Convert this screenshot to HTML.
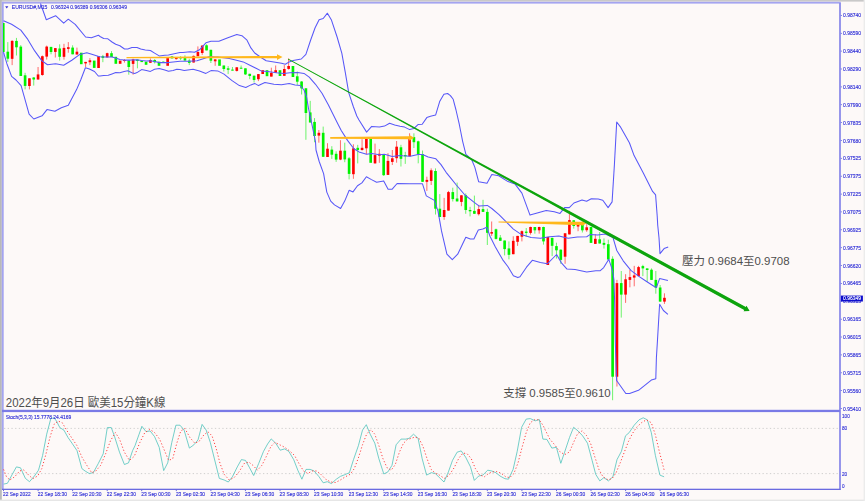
<!DOCTYPE html>
<html lang="zh-Hant"><head><meta charset="utf-8"><title>EURUSD M15</title>
<style>html,body{margin:0;padding:0;background:#fdf9f8;overflow:hidden}svg{display:block}.ax{font-family:"Liberation Sans",sans-serif;font-size:5.7px;fill:#2c2cd6;stroke:#2c2cd6;stroke-width:0.13px}.cj{font-family:"Liberation Sans","Noto Sans CJK TC","Noto Sans CJK SC",sans-serif;fill:#4e4e4e}</style></head><body>
<svg width="865" height="501" viewBox="0 0 865 501">
<defs><filter id="bl" x="-2%" y="-2%" width="104%" height="104%"><feGaussianBlur stdDeviation="0.35"/></filter></defs>
<rect width="865" height="501" fill="#fdf9f8"/>
<g filter="url(#bl)">
<rect x="0" y="0" width="865" height="1.6" fill="#c9c9c9"/>
<rect x="0" y="0" width="1.8" height="501" fill="#b9b9b9"/>
<rect x="0" y="499.6" width="865" height="1.4" fill="#e6e6e6"/>
<rect x="863.6" y="0" width="1.4" height="501" fill="#ececec"/>
<rect x="1.8" y="1.8" width="839" height="1.8" fill="#a4a4f0"/>
<rect x="1.8" y="1.8" width="1.9" height="488" fill="#a4a4f0"/>
<rect x="839.1" y="3" width="1.8" height="487" fill="#8c8cea"/>
<rect x="2" y="409.8" width="838" height="2.3" fill="#7a7ae6"/>
<rect x="2" y="488.7" width="838.5" height="1.3" fill="#6a6ae0"/>
<line x1="4" y1="428.4" x2="839" y2="428.4" stroke="#bdbdbd" stroke-width="0.7" stroke-dasharray="1.3 2.4"/>
<line x1="4" y1="473.6" x2="839" y2="473.6" stroke="#bdbdbd" stroke-width="0.7" stroke-dasharray="1.3 2.4"/>
<rect x="3.00" y="23.0" width="1.6" height="29.0" fill="#00f200"/>
<line x1="7.82" y1="42.1" x2="7.82" y2="61.9" stroke="#3cf03c" stroke-width="0.75"/>
<rect x="6.50" y="51.7" width="2.65" height="7.0" fill="#00f200"/>
<line x1="12.14" y1="40.2" x2="12.14" y2="65.1" stroke="#ff3c3c" stroke-width="0.75"/>
<rect x="10.82" y="40.9" width="2.65" height="17.9" fill="#ff0000"/>
<line x1="16.46" y1="37.9" x2="16.46" y2="55.5" stroke="#3cf03c" stroke-width="0.75"/>
<rect x="15.14" y="40.9" width="2.65" height="6.4" fill="#00f200"/>
<line x1="20.78" y1="45.1" x2="20.78" y2="76.0" stroke="#3cf03c" stroke-width="0.75"/>
<rect x="19.46" y="46.6" width="2.65" height="29.4" fill="#00f200"/>
<line x1="25.10" y1="72.8" x2="25.10" y2="89.4" stroke="#3cf03c" stroke-width="0.75"/>
<rect x="23.78" y="75.3" width="2.65" height="10.6" fill="#00f200"/>
<line x1="29.42" y1="78.3" x2="29.42" y2="89.4" stroke="#ff3c3c" stroke-width="0.75"/>
<rect x="28.10" y="78.3" width="2.65" height="7.7" fill="#ff0000"/>
<line x1="33.74" y1="77.0" x2="33.74" y2="85.6" stroke="#3cf03c" stroke-width="0.75"/>
<rect x="32.41" y="77.5" width="2.65" height="2.0" fill="#00f200"/>
<line x1="38.06" y1="67.0" x2="38.06" y2="79.5" stroke="#ff3c3c" stroke-width="0.75"/>
<rect x="36.73" y="74.4" width="2.65" height="5.1" fill="#ff0000"/>
<line x1="42.38" y1="55.5" x2="42.38" y2="75.7" stroke="#ff3c3c" stroke-width="0.75"/>
<rect x="41.05" y="56.2" width="2.65" height="18.8" fill="#ff0000"/>
<line x1="46.70" y1="45.6" x2="46.70" y2="59.6" stroke="#ff3c3c" stroke-width="0.75"/>
<rect x="45.38" y="46.6" width="2.65" height="10.0" fill="#ff0000"/>
<line x1="51.02" y1="46.9" x2="51.02" y2="54.3" stroke="#3cf03c" stroke-width="0.75"/>
<rect x="49.70" y="46.9" width="2.65" height="5.1" fill="#00f200"/>
<line x1="55.34" y1="48.1" x2="55.34" y2="57.5" stroke="#ff3c3c" stroke-width="0.75"/>
<rect x="54.02" y="48.1" width="2.65" height="3.8" fill="#ff0000"/>
<line x1="59.66" y1="44.3" x2="59.66" y2="60.6" stroke="#3cf03c" stroke-width="0.75"/>
<rect x="58.34" y="48.5" width="2.65" height="8.3" fill="#00f200"/>
<line x1="63.98" y1="43.8" x2="63.98" y2="59.6" stroke="#ff3c3c" stroke-width="0.75"/>
<rect x="62.66" y="47.9" width="2.65" height="8.9" fill="#ff0000"/>
<line x1="68.30" y1="42.1" x2="68.30" y2="52.7" stroke="#ff3c3c" stroke-width="0.75"/>
<rect x="66.98" y="47.2" width="2.65" height="1.7" fill="#ff0000"/>
<line x1="72.62" y1="45.3" x2="72.62" y2="54.3" stroke="#3cf03c" stroke-width="0.75"/>
<rect x="71.30" y="47.6" width="2.65" height="6.7" fill="#00f200"/>
<line x1="76.94" y1="47.6" x2="76.94" y2="54.5" stroke="#ff3c3c" stroke-width="0.75"/>
<rect x="75.61" y="51.7" width="2.65" height="2.8" fill="#ff0000"/>
<rect x="79.94" y="52.7" width="2.65" height="11.5" fill="#00f200"/>
<line x1="85.58" y1="61.9" x2="85.58" y2="67.0" stroke="#ff3c3c" stroke-width="0.75"/>
<rect x="84.26" y="61.9" width="2.65" height="1.5" fill="#ff0000"/>
<line x1="89.90" y1="58.1" x2="89.90" y2="65.1" stroke="#ff3c3c" stroke-width="0.75"/>
<rect x="88.58" y="60.3" width="2.65" height="1.9" fill="#ff0000"/>
<rect x="92.89" y="60.6" width="2.65" height="7.3" fill="#00f200"/>
<rect x="97.22" y="56.2" width="2.65" height="11.8" fill="#ff0000"/>
<line x1="102.86" y1="54.9" x2="102.86" y2="62.2" stroke="#3cf03c" stroke-width="0.75"/>
<rect x="101.54" y="56.2" width="2.65" height="1.7" fill="#00f200"/>
<line x1="107.18" y1="52.7" x2="107.18" y2="57.5" stroke="#ff3c3c" stroke-width="0.75"/>
<rect x="105.86" y="53.2" width="2.65" height="4.2" fill="#ff0000"/>
<line x1="111.50" y1="51.1" x2="111.50" y2="57.1" stroke="#3cf03c" stroke-width="0.75"/>
<rect x="110.17" y="53.2" width="2.65" height="3.8" fill="#00f200"/>
<rect x="114.50" y="56.8" width="2.65" height="7.0" fill="#00f200"/>
<rect x="118.82" y="60.6" width="2.65" height="3.2" fill="#ff0000"/>
<line x1="124.46" y1="59.1" x2="124.46" y2="62.6" stroke="#ff3c3c" stroke-width="0.75"/>
<rect x="123.14" y="60.0" width="2.65" height="1.0" fill="#ff0000"/>
<line x1="128.78" y1="60.4" x2="128.78" y2="74.7" stroke="#3cf03c" stroke-width="0.75"/>
<rect x="127.45" y="60.4" width="2.65" height="6.6" fill="#00f200"/>
<line x1="133.10" y1="58.7" x2="133.10" y2="74.7" stroke="#ff3c3c" stroke-width="0.75"/>
<rect x="131.78" y="59.4" width="2.65" height="4.5" fill="#ff0000"/>
<line x1="137.42" y1="59.6" x2="137.42" y2="68.3" stroke="#3cf03c" stroke-width="0.75"/>
<rect x="136.10" y="59.6" width="2.65" height="1.4" fill="#00f200"/>
<rect x="140.42" y="60.6" width="2.65" height="1.5" fill="#00f200"/>
<rect x="144.74" y="61.7" width="2.65" height="3.1" fill="#00f200"/>
<line x1="150.38" y1="58.4" x2="150.38" y2="62.8" stroke="#ff3c3c" stroke-width="0.75"/>
<rect x="149.06" y="60.0" width="2.65" height="2.8" fill="#ff0000"/>
<line x1="154.70" y1="59.1" x2="154.70" y2="63.5" stroke="#3cf03c" stroke-width="0.75"/>
<rect x="153.38" y="60.0" width="2.65" height="2.2" fill="#00f200"/>
<rect x="157.70" y="61.7" width="2.65" height="4.1" fill="#00f200"/>
<line x1="163.34" y1="61.4" x2="163.34" y2="62.6" stroke="#3cf03c" stroke-width="0.75"/>
<rect x="162.02" y="61.7" width="2.65" height="0.9" fill="#00f200"/>
<rect x="166.34" y="58.1" width="2.65" height="7.7" fill="#ff0000"/>
<line x1="171.98" y1="56.2" x2="171.98" y2="58.7" stroke="#3cf03c" stroke-width="0.75"/>
<rect x="170.66" y="56.4" width="2.65" height="1.9" fill="#00f200"/>
<line x1="176.30" y1="57.5" x2="176.30" y2="59.6" stroke="#ff3c3c" stroke-width="0.75"/>
<rect x="174.98" y="57.8" width="2.65" height="1.3" fill="#ff0000"/>
<line x1="180.62" y1="56.2" x2="180.62" y2="60.0" stroke="#3cf03c" stroke-width="0.75"/>
<rect x="179.30" y="57.5" width="2.65" height="0.9" fill="#00f200"/>
<line x1="184.94" y1="55.3" x2="184.94" y2="60.6" stroke="#3cf03c" stroke-width="0.75"/>
<rect x="183.62" y="58.1" width="2.65" height="2.5" fill="#00f200"/>
<line x1="189.26" y1="58.7" x2="189.26" y2="65.1" stroke="#3cf03c" stroke-width="0.75"/>
<rect x="187.94" y="60.6" width="2.65" height="2.3" fill="#00f200"/>
<line x1="193.58" y1="55.5" x2="193.58" y2="62.6" stroke="#ff3c3c" stroke-width="0.75"/>
<rect x="192.26" y="55.9" width="2.65" height="6.6" fill="#ff0000"/>
<line x1="197.90" y1="46.4" x2="197.90" y2="56.2" stroke="#ff3c3c" stroke-width="0.75"/>
<rect x="196.58" y="52.0" width="2.65" height="4.2" fill="#ff0000"/>
<line x1="202.22" y1="45.3" x2="202.22" y2="54.9" stroke="#ff3c3c" stroke-width="0.75"/>
<rect x="200.90" y="45.6" width="2.65" height="7.4" fill="#ff0000"/>
<line x1="206.54" y1="44.3" x2="206.54" y2="50.4" stroke="#3cf03c" stroke-width="0.75"/>
<rect x="205.22" y="45.3" width="2.65" height="5.1" fill="#00f200"/>
<line x1="210.86" y1="49.8" x2="210.86" y2="63.0" stroke="#3cf03c" stroke-width="0.75"/>
<rect x="209.54" y="49.8" width="2.65" height="10.9" fill="#00f200"/>
<line x1="215.18" y1="59.1" x2="215.18" y2="65.8" stroke="#ff3c3c" stroke-width="0.75"/>
<rect x="213.86" y="59.4" width="2.65" height="1.9" fill="#ff0000"/>
<rect x="218.18" y="59.4" width="2.65" height="6.4" fill="#00f200"/>
<line x1="223.82" y1="65.5" x2="223.82" y2="71.5" stroke="#3cf03c" stroke-width="0.75"/>
<rect x="222.50" y="65.5" width="2.65" height="3.5" fill="#00f200"/>
<line x1="228.14" y1="66.0" x2="228.14" y2="74.1" stroke="#3cf03c" stroke-width="0.75"/>
<rect x="226.82" y="68.3" width="2.65" height="1.5" fill="#00f200"/>
<line x1="232.46" y1="67.0" x2="232.46" y2="70.6" stroke="#3cf03c" stroke-width="0.75"/>
<rect x="231.14" y="69.6" width="2.65" height="1.0" fill="#00f200"/>
<line x1="236.78" y1="67.0" x2="236.78" y2="71.5" stroke="#ff3c3c" stroke-width="0.75"/>
<rect x="235.46" y="67.3" width="2.65" height="3.6" fill="#ff0000"/>
<line x1="241.10" y1="65.5" x2="241.10" y2="68.7" stroke="#3cf03c" stroke-width="0.75"/>
<rect x="239.78" y="67.7" width="2.65" height="1.0" fill="#00f200"/>
<line x1="245.42" y1="68.3" x2="245.42" y2="75.0" stroke="#3cf03c" stroke-width="0.75"/>
<rect x="244.10" y="68.3" width="2.65" height="6.1" fill="#00f200"/>
<line x1="249.74" y1="73.8" x2="249.74" y2="79.2" stroke="#3cf03c" stroke-width="0.75"/>
<rect x="248.42" y="73.8" width="2.65" height="2.2" fill="#00f200"/>
<line x1="254.06" y1="75.7" x2="254.06" y2="82.4" stroke="#3cf03c" stroke-width="0.75"/>
<rect x="252.74" y="75.7" width="2.65" height="4.3" fill="#00f200"/>
<line x1="258.38" y1="74.1" x2="258.38" y2="81.1" stroke="#ff3c3c" stroke-width="0.75"/>
<rect x="257.06" y="74.1" width="2.65" height="5.1" fill="#ff0000"/>
<rect x="261.38" y="70.2" width="2.65" height="3.8" fill="#ff0000"/>
<rect x="265.70" y="70.2" width="2.65" height="6.0" fill="#00f200"/>
<line x1="271.34" y1="67.7" x2="271.34" y2="76.6" stroke="#ff3c3c" stroke-width="0.75"/>
<rect x="270.02" y="72.8" width="2.65" height="3.8" fill="#ff0000"/>
<line x1="275.66" y1="65.5" x2="275.66" y2="72.8" stroke="#ff3c3c" stroke-width="0.75"/>
<rect x="274.34" y="70.2" width="2.65" height="2.5" fill="#ff0000"/>
<rect x="278.66" y="70.2" width="2.65" height="5.8" fill="#00f200"/>
<line x1="284.30" y1="65.1" x2="284.30" y2="75.7" stroke="#ff3c3c" stroke-width="0.75"/>
<rect x="282.98" y="69.0" width="2.65" height="6.8" fill="#ff0000"/>
<line x1="288.62" y1="58.4" x2="288.62" y2="69.6" stroke="#ff3c3c" stroke-width="0.75"/>
<rect x="287.30" y="66.0" width="2.65" height="2.9" fill="#ff0000"/>
<rect x="291.62" y="66.0" width="2.65" height="11.0" fill="#00f200"/>
<line x1="297.26" y1="71.5" x2="297.26" y2="84.9" stroke="#3cf03c" stroke-width="0.75"/>
<rect x="295.94" y="76.3" width="2.65" height="5.4" fill="#00f200"/>
<line x1="301.58" y1="81.1" x2="301.58" y2="94.5" stroke="#3cf03c" stroke-width="0.75"/>
<rect x="300.26" y="81.5" width="2.65" height="6.9" fill="#00f200"/>
<line x1="305.90" y1="88.3" x2="305.90" y2="139.8" stroke="#3cf03c" stroke-width="0.75"/>
<rect x="304.58" y="88.3" width="2.65" height="24.7" fill="#00f200"/>
<line x1="310.22" y1="100.9" x2="310.22" y2="122.5" stroke="#3cf03c" stroke-width="0.75"/>
<rect x="308.90" y="112.4" width="2.65" height="10.1" fill="#00f200"/>
<line x1="314.54" y1="118.1" x2="314.54" y2="142.3" stroke="#3cf03c" stroke-width="0.75"/>
<rect x="313.22" y="121.9" width="2.65" height="14.1" fill="#00f200"/>
<line x1="318.86" y1="130.0" x2="318.86" y2="142.7" stroke="#ff3c3c" stroke-width="0.75"/>
<rect x="317.54" y="132.8" width="2.65" height="2.8" fill="#ff0000"/>
<line x1="323.18" y1="126.6" x2="323.18" y2="156.8" stroke="#3cf03c" stroke-width="0.75"/>
<rect x="321.86" y="132.8" width="2.65" height="24.0" fill="#00f200"/>
<line x1="327.50" y1="143.2" x2="327.50" y2="157.0" stroke="#ff3c3c" stroke-width="0.75"/>
<rect x="326.18" y="148.7" width="2.65" height="8.3" fill="#ff0000"/>
<line x1="331.82" y1="146.2" x2="331.82" y2="158.9" stroke="#3cf03c" stroke-width="0.75"/>
<rect x="330.50" y="149.6" width="2.65" height="5.1" fill="#00f200"/>
<line x1="336.14" y1="151.3" x2="336.14" y2="161.9" stroke="#3cf03c" stroke-width="0.75"/>
<rect x="334.82" y="153.8" width="2.65" height="5.8" fill="#00f200"/>
<line x1="340.46" y1="140.2" x2="340.46" y2="160.2" stroke="#ff3c3c" stroke-width="0.75"/>
<rect x="339.14" y="150.7" width="2.65" height="8.9" fill="#ff0000"/>
<line x1="344.78" y1="142.7" x2="344.78" y2="162.2" stroke="#3cf03c" stroke-width="0.75"/>
<rect x="343.46" y="150.7" width="2.65" height="8.7" fill="#00f200"/>
<line x1="349.10" y1="157.0" x2="349.10" y2="179.4" stroke="#3cf03c" stroke-width="0.75"/>
<rect x="347.78" y="158.3" width="2.65" height="15.6" fill="#00f200"/>
<line x1="353.42" y1="144.3" x2="353.42" y2="178.8" stroke="#ff3c3c" stroke-width="0.75"/>
<rect x="352.10" y="148.3" width="2.65" height="25.9" fill="#ff0000"/>
<line x1="357.74" y1="144.9" x2="357.74" y2="163.4" stroke="#3cf03c" stroke-width="0.75"/>
<rect x="356.42" y="147.8" width="2.65" height="2.2" fill="#00f200"/>
<line x1="362.06" y1="139.2" x2="362.06" y2="150.7" stroke="#ff3c3c" stroke-width="0.75"/>
<rect x="360.74" y="147.8" width="2.65" height="2.2" fill="#ff0000"/>
<line x1="366.38" y1="138.9" x2="366.38" y2="154.2" stroke="#ff3c3c" stroke-width="0.75"/>
<rect x="365.06" y="138.9" width="2.65" height="9.4" fill="#ff0000"/>
<rect x="369.38" y="138.9" width="2.65" height="23.9" fill="#00f200"/>
<line x1="375.02" y1="143.6" x2="375.02" y2="163.4" stroke="#ff3c3c" stroke-width="0.75"/>
<rect x="373.70" y="155.1" width="2.65" height="8.3" fill="#ff0000"/>
<line x1="379.34" y1="149.1" x2="379.34" y2="162.8" stroke="#ff3c3c" stroke-width="0.75"/>
<rect x="378.02" y="153.8" width="2.65" height="1.9" fill="#ff0000"/>
<line x1="383.66" y1="154.5" x2="383.66" y2="175.9" stroke="#3cf03c" stroke-width="0.75"/>
<rect x="382.34" y="154.5" width="2.65" height="20.7" fill="#00f200"/>
<line x1="387.98" y1="153.2" x2="387.98" y2="174.9" stroke="#ff3c3c" stroke-width="0.75"/>
<rect x="386.66" y="160.9" width="2.65" height="14.0" fill="#ff0000"/>
<line x1="392.30" y1="150.0" x2="392.30" y2="165.0" stroke="#ff3c3c" stroke-width="0.75"/>
<rect x="390.98" y="158.3" width="2.65" height="3.6" fill="#ff0000"/>
<line x1="396.62" y1="141.0" x2="396.62" y2="162.7" stroke="#ff3c3c" stroke-width="0.75"/>
<rect x="395.30" y="146.7" width="2.65" height="11.5" fill="#ff0000"/>
<line x1="400.94" y1="144.8" x2="400.94" y2="166.5" stroke="#3cf03c" stroke-width="0.75"/>
<rect x="399.62" y="147.3" width="2.65" height="11.5" fill="#00f200"/>
<line x1="405.26" y1="151.8" x2="405.26" y2="163.9" stroke="#3cf03c" stroke-width="0.75"/>
<rect x="403.94" y="155.0" width="2.65" height="1.3" fill="#00f200"/>
<line x1="409.58" y1="133.3" x2="409.58" y2="156.3" stroke="#ff3c3c" stroke-width="0.75"/>
<rect x="408.26" y="137.1" width="2.65" height="19.2" fill="#ff0000"/>
<line x1="413.90" y1="133.3" x2="413.90" y2="148.0" stroke="#3cf03c" stroke-width="0.75"/>
<rect x="412.58" y="137.1" width="2.65" height="5.1" fill="#00f200"/>
<line x1="418.22" y1="140.6" x2="418.22" y2="163.3" stroke="#3cf03c" stroke-width="0.75"/>
<rect x="416.90" y="141.3" width="2.65" height="13.0" fill="#00f200"/>
<line x1="422.54" y1="150.5" x2="422.54" y2="181.8" stroke="#3cf03c" stroke-width="0.75"/>
<rect x="421.22" y="154.1" width="2.65" height="27.7" fill="#00f200"/>
<line x1="426.86" y1="176.7" x2="426.86" y2="190.9" stroke="#ff3c3c" stroke-width="0.75"/>
<rect x="425.54" y="179.9" width="2.65" height="1.9" fill="#ff0000"/>
<line x1="431.18" y1="168.4" x2="431.18" y2="185.0" stroke="#ff3c3c" stroke-width="0.75"/>
<rect x="429.86" y="170.3" width="2.65" height="10.6" fill="#ff0000"/>
<line x1="435.50" y1="168.4" x2="435.50" y2="214.5" stroke="#3cf03c" stroke-width="0.75"/>
<rect x="434.18" y="171.0" width="2.65" height="37.7" fill="#00f200"/>
<line x1="439.82" y1="194.1" x2="439.82" y2="217.0" stroke="#3cf03c" stroke-width="0.75"/>
<rect x="438.50" y="208.7" width="2.65" height="8.3" fill="#00f200"/>
<line x1="444.14" y1="197.9" x2="444.14" y2="219.8" stroke="#ff3c3c" stroke-width="0.75"/>
<rect x="442.82" y="210.0" width="2.65" height="7.0" fill="#ff0000"/>
<line x1="448.46" y1="190.9" x2="448.46" y2="210.7" stroke="#ff3c3c" stroke-width="0.75"/>
<rect x="447.14" y="192.1" width="2.65" height="18.5" fill="#ff0000"/>
<line x1="452.78" y1="187.7" x2="452.78" y2="201.5" stroke="#3cf03c" stroke-width="0.75"/>
<rect x="451.46" y="192.1" width="2.65" height="7.0" fill="#00f200"/>
<line x1="457.10" y1="182.6" x2="457.10" y2="201.5" stroke="#3cf03c" stroke-width="0.75"/>
<rect x="455.78" y="198.5" width="2.65" height="2.9" fill="#00f200"/>
<line x1="461.42" y1="195.1" x2="461.42" y2="206.2" stroke="#ff3c3c" stroke-width="0.75"/>
<rect x="460.10" y="195.3" width="2.65" height="6.6" fill="#ff0000"/>
<line x1="465.74" y1="193.4" x2="465.74" y2="213.8" stroke="#3cf03c" stroke-width="0.75"/>
<rect x="464.42" y="195.3" width="2.65" height="14.7" fill="#00f200"/>
<line x1="470.06" y1="206.8" x2="470.06" y2="216.4" stroke="#3cf03c" stroke-width="0.75"/>
<rect x="468.74" y="210.0" width="2.65" height="1.3" fill="#00f200"/>
<line x1="474.38" y1="195.6" x2="474.38" y2="213.8" stroke="#3cf03c" stroke-width="0.75"/>
<rect x="473.06" y="210.9" width="2.65" height="2.9" fill="#00f200"/>
<line x1="478.70" y1="204.9" x2="478.70" y2="215.5" stroke="#ff3c3c" stroke-width="0.75"/>
<rect x="477.38" y="209.1" width="2.65" height="5.1" fill="#ff0000"/>
<line x1="483.02" y1="199.8" x2="483.02" y2="211.9" stroke="#3cf03c" stroke-width="0.75"/>
<rect x="481.70" y="209.1" width="2.65" height="2.8" fill="#00f200"/>
<line x1="487.34" y1="208.7" x2="487.34" y2="245.0" stroke="#3cf03c" stroke-width="0.75"/>
<rect x="486.02" y="211.9" width="2.65" height="20.9" fill="#00f200"/>
<line x1="491.66" y1="221.5" x2="491.66" y2="235.9" stroke="#ff3c3c" stroke-width="0.75"/>
<rect x="490.34" y="232.1" width="2.65" height="1.5" fill="#ff0000"/>
<line x1="495.98" y1="228.6" x2="495.98" y2="239.5" stroke="#3cf03c" stroke-width="0.75"/>
<rect x="494.66" y="229.3" width="2.65" height="9.6" fill="#00f200"/>
<line x1="500.30" y1="235.0" x2="500.30" y2="240.8" stroke="#3cf03c" stroke-width="0.75"/>
<rect x="498.98" y="237.6" width="2.65" height="3.2" fill="#00f200"/>
<line x1="504.62" y1="240.5" x2="504.62" y2="255.4" stroke="#3cf03c" stroke-width="0.75"/>
<rect x="503.30" y="240.5" width="2.65" height="8.6" fill="#00f200"/>
<line x1="508.94" y1="241.4" x2="508.94" y2="259.3" stroke="#3cf03c" stroke-width="0.75"/>
<rect x="507.62" y="248.4" width="2.65" height="6.4" fill="#00f200"/>
<line x1="513.26" y1="236.3" x2="513.26" y2="254.2" stroke="#ff3c3c" stroke-width="0.75"/>
<rect x="511.94" y="240.8" width="2.65" height="13.4" fill="#ff0000"/>
<line x1="517.58" y1="235.9" x2="517.58" y2="245.9" stroke="#ff3c3c" stroke-width="0.75"/>
<rect x="516.25" y="235.9" width="2.65" height="5.9" fill="#ff0000"/>
<line x1="521.90" y1="230.5" x2="521.90" y2="241.4" stroke="#ff3c3c" stroke-width="0.75"/>
<rect x="520.58" y="231.2" width="2.65" height="5.5" fill="#ff0000"/>
<line x1="526.22" y1="228.0" x2="526.22" y2="236.9" stroke="#3cf03c" stroke-width="0.75"/>
<rect x="524.89" y="231.6" width="2.65" height="1.3" fill="#00f200"/>
<line x1="530.54" y1="226.7" x2="530.54" y2="234.6" stroke="#ff3c3c" stroke-width="0.75"/>
<rect x="529.22" y="227.0" width="2.65" height="5.9" fill="#ff0000"/>
<line x1="534.86" y1="227.0" x2="534.86" y2="233.7" stroke="#3cf03c" stroke-width="0.75"/>
<rect x="533.53" y="227.0" width="2.65" height="3.3" fill="#00f200"/>
<line x1="539.18" y1="226.7" x2="539.18" y2="233.7" stroke="#ff3c3c" stroke-width="0.75"/>
<rect x="537.86" y="227.0" width="2.65" height="3.3" fill="#ff0000"/>
<line x1="543.50" y1="226.7" x2="543.50" y2="244.6" stroke="#3cf03c" stroke-width="0.75"/>
<rect x="542.17" y="227.0" width="2.65" height="14.4" fill="#00f200"/>
<rect x="546.50" y="236.9" width="2.65" height="28.1" fill="#ff0000"/>
<line x1="552.14" y1="237.6" x2="552.14" y2="256.1" stroke="#3cf03c" stroke-width="0.75"/>
<rect x="550.81" y="237.9" width="2.65" height="7.9" fill="#00f200"/>
<line x1="556.46" y1="242.7" x2="556.46" y2="258.6" stroke="#3cf03c" stroke-width="0.75"/>
<rect x="555.13" y="246.1" width="2.65" height="4.2" fill="#00f200"/>
<line x1="560.78" y1="249.4" x2="560.78" y2="263.8" stroke="#3cf03c" stroke-width="0.75"/>
<rect x="559.46" y="249.7" width="2.65" height="10.2" fill="#00f200"/>
<line x1="565.10" y1="233.1" x2="565.10" y2="263.8" stroke="#ff3c3c" stroke-width="0.75"/>
<rect x="563.77" y="233.3" width="2.65" height="23.4" fill="#ff0000"/>
<line x1="569.42" y1="210.8" x2="569.42" y2="234.4" stroke="#ff3c3c" stroke-width="0.75"/>
<rect x="568.10" y="220.1" width="2.65" height="14.3" fill="#ff0000"/>
<line x1="573.74" y1="220.1" x2="573.74" y2="228.6" stroke="#3cf03c" stroke-width="0.75"/>
<rect x="572.41" y="220.3" width="2.65" height="5.7" fill="#00f200"/>
<line x1="578.06" y1="223.9" x2="578.06" y2="231.2" stroke="#ff3c3c" stroke-width="0.75"/>
<rect x="576.74" y="224.2" width="2.65" height="2.3" fill="#ff0000"/>
<line x1="582.38" y1="224.2" x2="582.38" y2="232.5" stroke="#3cf03c" stroke-width="0.75"/>
<rect x="581.05" y="224.8" width="2.65" height="5.5" fill="#00f200"/>
<line x1="586.70" y1="224.2" x2="586.70" y2="231.8" stroke="#ff3c3c" stroke-width="0.75"/>
<rect x="585.38" y="227.3" width="2.65" height="2.9" fill="#ff0000"/>
<rect x="589.69" y="226.9" width="2.65" height="16.0" fill="#00f200"/>
<line x1="595.34" y1="234.2" x2="595.34" y2="243.9" stroke="#ff3c3c" stroke-width="0.75"/>
<rect x="594.01" y="238.8" width="2.65" height="5.1" fill="#ff0000"/>
<line x1="599.66" y1="232.0" x2="599.66" y2="243.5" stroke="#3cf03c" stroke-width="0.75"/>
<rect x="598.34" y="239.3" width="2.65" height="4.2" fill="#00f200"/>
<line x1="603.98" y1="238.4" x2="603.98" y2="248.6" stroke="#3cf03c" stroke-width="0.75"/>
<rect x="602.65" y="242.9" width="2.65" height="1.9" fill="#00f200"/>
<line x1="608.30" y1="239.7" x2="608.30" y2="259.5" stroke="#3cf03c" stroke-width="0.75"/>
<rect x="606.98" y="244.2" width="2.65" height="15.3" fill="#00f200"/>
<line x1="612.62" y1="256.3" x2="612.62" y2="400.2" stroke="#3cf03c" stroke-width="0.75"/>
<rect x="611.29" y="258.8" width="2.65" height="117.9" fill="#00f200"/>
<line x1="616.94" y1="279.9" x2="616.94" y2="386.5" stroke="#ff3c3c" stroke-width="0.75"/>
<rect x="615.62" y="283.1" width="2.65" height="93.6" fill="#ff0000"/>
<line x1="621.26" y1="271.0" x2="621.26" y2="317.6" stroke="#3cf03c" stroke-width="0.75"/>
<rect x="619.93" y="283.1" width="2.65" height="11.5" fill="#00f200"/>
<line x1="625.58" y1="274.2" x2="625.58" y2="302.9" stroke="#ff3c3c" stroke-width="0.75"/>
<rect x="624.25" y="279.3" width="2.65" height="15.3" fill="#ff0000"/>
<line x1="629.90" y1="269.7" x2="629.90" y2="287.3" stroke="#ff3c3c" stroke-width="0.75"/>
<rect x="628.58" y="277.1" width="2.65" height="2.8" fill="#ff0000"/>
<line x1="634.22" y1="265.9" x2="634.22" y2="286.3" stroke="#ff3c3c" stroke-width="0.75"/>
<rect x="632.89" y="275.4" width="2.65" height="2.2" fill="#ff0000"/>
<line x1="638.54" y1="265.9" x2="638.54" y2="276.1" stroke="#ff3c3c" stroke-width="0.75"/>
<rect x="637.22" y="267.1" width="2.65" height="9.0" fill="#ff0000"/>
<line x1="642.86" y1="264.8" x2="642.86" y2="276.1" stroke="#3cf03c" stroke-width="0.75"/>
<rect x="641.53" y="266.1" width="2.65" height="2.3" fill="#00f200"/>
<line x1="647.18" y1="268.4" x2="647.18" y2="281.8" stroke="#3cf03c" stroke-width="0.75"/>
<rect x="645.86" y="268.4" width="2.65" height="1.6" fill="#00f200"/>
<line x1="651.50" y1="268.4" x2="651.50" y2="279.9" stroke="#3cf03c" stroke-width="0.75"/>
<rect x="650.17" y="269.7" width="2.65" height="10.2" fill="#00f200"/>
<line x1="655.82" y1="271.0" x2="655.82" y2="293.7" stroke="#3cf03c" stroke-width="0.75"/>
<rect x="654.50" y="279.9" width="2.65" height="7.7" fill="#00f200"/>
<line x1="660.14" y1="285.0" x2="660.14" y2="301.6" stroke="#3cf03c" stroke-width="0.75"/>
<rect x="658.82" y="287.5" width="2.65" height="14.1" fill="#00f200"/>
<line x1="664.46" y1="293.3" x2="664.46" y2="303.9" stroke="#ff3c3c" stroke-width="0.75"/>
<rect x="663.13" y="297.8" width="2.65" height="3.8" fill="#ff0000"/>
<polyline points="40.5,3.5 46.3,19.7 55.6,15.7 63.7,23.1 68.3,19.2 75.2,24.3 85.6,37.0 91.4,37.7 98.4,35.2 100.0,36.5 103.7,38.5 107.9,38.8 112.0,42.0 115.7,44.3 119.9,45.7 124.5,49.0 127.8,49.0 131.9,47.4 137.0,47.4 140.7,49.0 145.3,49.9 150.4,50.5 154.6,53.1 159.2,55.9 164.8,55.2 168.5,55.0 173.1,53.9 180.0,52.6 182.9,52.4 190.0,51.7 194.5,52.3 199.5,49.8 205.9,42.8 211.0,41.2 218.9,41.2 227.9,37.7 236.8,34.5 241.9,35.7 247.0,40.2 250.9,47.9 254.7,53.0 261.1,57.5 266.2,60.7 273.9,61.9 281.5,63.2 285.4,64.2 289.2,61.9 293.1,60.6 301.3,59.0 305.9,54.4 310.5,40.5 315.1,27.8 319.1,19.7 323.2,18.5 327.4,13.2 331.3,19.7 337.1,37.0 341.8,53.2 345.2,71.8 348.7,92.6 353.3,106.5 356.8,116.0 359.0,120.0 366.6,132.1 371.7,126.4 379.4,127.0 384.5,126.1 389.6,123.2 394.7,124.9 400.0,126.2 404.6,127.1 409.7,129.6 413.9,128.5 418.0,124.6 422.2,124.3 426.8,117.6 430.5,116.3 435.6,115.1 439.8,101.2 443.9,94.3 447.6,93.5 450.4,95.6 453.2,99.3 456.0,110.0 459.2,123.9 460.6,131.0 462.7,141.6 465.9,154.4 471.6,159.5 474.8,167.1 478.7,181.8 487.0,183.2 491.8,174.6 498.7,175.8 508.0,181.6 514.9,183.9 521.9,193.1 530.0,215.1 538.1,212.8 546.2,210.5 554.3,211.7 560.0,213.4 564.6,207.6 569.3,207.6 573.9,203.0 582.0,200.0 586.6,201.2 591.3,198.8 598.2,199.1 602.8,200.2 608.1,207.6 612.1,201.9 614.4,164.8 616.7,122.0 620.2,126.6 629.4,142.8 634.1,155.6 643.3,172.9 652.6,191.4 655.6,194.9 657.2,216.0 657.7,225.0 659.0,237.8 660.0,253.7 664.1,248.6 668.2,247.0" fill="none" stroke="#5858f8" stroke-width="1.05" stroke-linejoin="round"/>
<polyline points="3.5,20.8 11.6,24.3 20.8,30.1 27.8,39.4 34.7,50.9 41.7,60.6 47.5,64.8 55.6,63.7 63.7,65.3 71.8,60.2 79.9,54.4 86.8,52.8 92.6,54.4 99.5,56.7 100.0,56.8 105.5,57.0 112.0,57.0 114.8,57.8 119.9,59.4 124.1,60.1 130.5,60.1 137.0,59.8 141.6,60.5 146.3,61.0 150.4,60.7 154.6,61.5 159.2,62.6 164.8,62.6 168.5,62.6 173.1,61.9 180.0,61.3 181.6,61.3 189.3,61.3 197.0,60.7 203.3,58.7 209.7,56.6 215.0,57.1 217.7,57.1 229.2,58.4 235.5,60.0 243.2,61.9 250.9,65.8 256.0,68.3 261.1,70.9 267.5,71.5 276.4,72.8 283.8,73.4 290.0,72.8 297.7,72.5 304.0,73.4 309.2,77.2 315.5,84.3 322.0,93.2 328.3,104.7 333.4,115.0 337.9,124.0 341.1,130.2 347.5,140.4 353.9,148.7 359.0,151.9 366.6,154.2 371.7,153.5 379.4,154.7 384.5,154.2 392.2,156.4 400.0,155.4 402.7,155.7 410.3,156.3 418.0,154.4 422.5,154.4 428.2,156.9 435.9,158.8 441.0,164.6 446.1,172.3 451.2,178.6 456.3,185.0 458.9,188.0 464.9,195.0 473.9,202.2 479.2,206.1 487.3,205.4 491.8,208.5 499.0,214.7 506.2,221.9 513.4,229.1 520.0,233.6 521.9,234.8 531.1,237.6 540.4,238.3 549.6,236.7 558.9,236.0 568.1,238.3 577.4,237.1 586.7,236.7 590.0,234.6 597.7,235.0 605.3,233.9 613.0,237.5 614.9,244.2 616.8,250.5 623.2,260.8 630.9,270.3 638.5,276.1 646.2,281.2 653.9,286.3 656.4,287.6 659.6,278.6 662.8,279.3 667.9,280.6" fill="none" stroke="#5858f8" stroke-width="1.05" stroke-linejoin="round"/>
<polyline points="3.5,52.1 6.9,63.7 11.6,76.4 16.0,80.0 21.1,85.7 24.9,99.2 29.1,114.2 33.8,119.0 42.1,115.8 47.0,109.6 54.9,111.3 61.3,107.8 68.3,105.3 76.6,89.6 80.7,80.0 85.4,67.7 89.4,69.0 94.5,71.5 98.3,76.0 100.0,76.0 103.7,75.5 108.3,75.3 112.0,73.9 115.7,72.6 119.9,72.7 124.1,71.6 127.8,70.7 131.9,72.7 134.7,73.5 137.0,72.6 141.6,69.6 146.3,70.4 150.4,71.4 154.6,69.3 159.2,68.4 164.8,70.0 168.5,71.2 173.1,70.4 176.8,69.3 180.0,69.6 184.2,70.6 193.1,69.3 199.5,70.9 205.9,73.4 211.0,70.6 217.7,70.9 224.0,74.1 231.7,80.4 239.4,85.6 245.8,87.5 250.9,84.9 254.7,83.4 258.5,85.6 264.9,82.6 273.9,84.3 281.5,84.7 289.2,83.6 295.1,84.9 300.2,85.5 304.0,90.0 306.6,97.0 308.5,108.5 311.0,120.0 315.5,141.7 316.0,150.0 319.2,161.5 323.6,173.6 326.8,192.1 330.7,201.1 334.5,204.9 340.6,208.5 344.7,201.1 349.2,190.2 353.0,191.9 357.5,185.8 361.9,182.9 366.4,176.8 371.5,179.6 376.6,182.2 383.7,180.9 388.1,189.3 392.0,189.3 397.1,183.5 410.0,183.8 422.5,183.8 426.3,195.9 434.4,200.4 438.0,211.2 441.5,230.9 446.9,254.2 452.3,259.6 457.7,254.2 465.8,237.2 470.3,239.0 473.9,239.0 478.3,230.0 482.8,229.1 486.8,227.3 490.0,236.3 495.4,247.1 502.6,259.6 508.0,266.8 513.4,275.8 517.8,277.6 520.0,276.7 526.5,267.2 532.3,260.3 540.4,262.6 547.3,263.8 553.1,258.0 556.6,254.5 561.2,262.6 567.0,269.1 575.1,269.5 586.7,271.9 595.9,270.7 600.0,270.8 603.7,267.6 606.5,263.0 608.8,259.3 611.6,267.6 613.0,273.1 613.9,279.6 614.6,300.0 615.4,345.0 616.6,380.8 616.8,380.8 625.8,393.5 629.6,393.5 638.5,390.3 651.3,380.1 655.8,378.8 656.4,357.8 657.5,340.0 659.6,304.2 663.4,310.5 667.9,314.4" fill="none" stroke="#5858f8" stroke-width="1.05" stroke-linejoin="round"/>
<polygon points="126.5,58.2 277.0,58.3 277.0,60.0 282.5,57.1 277.0,54.2 277.0,55.9 126.5,57.0" fill="#ffb81c"/>
<polygon points="330.2,138.7 409.2,139.3 409.2,140.7 414.4,137.8 409.2,134.9 409.2,136.3 330.2,137.1" fill="#ffb81c"/>
<polygon points="498.5,222.5 581.8,225.2 581.8,225.9 586.3,223.6 581.8,221.1 581.8,221.8 498.5,221.5" fill="#ffb81c"/>
<polygon points="288.0,59.5 364.7,101.6 474.6,161.9 539.4,197.6 589.3,225.2 744.2,310.0 743.6,311.2 749.6,311.0 746.5,305.8 745.8,307.1 590.7,222.5 540.6,195.5 475.4,160.3 365.3,100.5 288.4,58.7" fill="#08a408"/>
<polyline points="3.6,484.1 7.4,483.3 12.3,474.3 16.4,466.9 20.5,467.8 25.4,478.4 29.5,481.7 34.4,476.0 38.5,470.2 42.6,455.5 46.7,434.2 50.8,418.6 54.0,417.8 56.5,421.1 59.8,427.6 63.9,430.1 68.0,437.5 72.0,443.2 77.0,450.6 81.9,468.6 85.1,471.0 89.2,473.5 93.3,472.7 98.2,463.7 103.2,453.8 107.3,427.6 111.3,427.6 114.6,436.7 119.5,452.2 124.4,464.5 128.5,462.9 132.6,450.6 135.0,445.7 139.1,434.2 141.9,426.3 146.1,431.7 150.1,430.9 154.6,436.7 159.2,447.3 163.7,470.6 167.7,462.9 171.8,442.4 175.9,425.2 180.0,425.2 184.1,430.1 189.4,448.1 193.9,444.8 198.0,439.9 202.1,424.4 206.2,430.1 210.3,442.4 215.2,462.0 219.3,478.4 224.2,480.0 228.3,482.0 232.4,476.8 237.3,466.9 241.4,459.6 245.5,460.4 249.6,467.8 253.7,475.5 258.6,463.7 263.5,451.4 267.6,444.0 271.2,438.9 275.7,443.2 280.2,450.2 284.7,448.9 288.8,451.4 293.7,459.6 297.8,470.2 301.9,479.2 306.0,469.4 310.1,469.4 314.2,471.0 319.1,476.8 323.2,482.8 327.3,481.7 331.4,483.6 336.3,479.2 340.4,476.4 344.5,474.8 349.4,472.7 353.5,459.6 358.4,445.7 362.5,430.1 366.3,424.7 370.2,434.2 374.8,443.2 378.9,458.8 383.8,474.0 387.9,471.9 392.0,465.3 396.1,444.8 401.0,439.1 405.9,439.1 409.1,438.3 413.5,434.2 418.1,438.3 422.2,458.8 426.6,475.1 431.2,472.7 435.3,473.5 439.4,477.6 444.0,482.0 448.4,471.9 452.5,460.4 457.1,452.2 461.2,450.9 465.6,457.1 470.5,466.9 474.3,480.4 478.7,476.0 482.8,475.1 487.7,470.2 491.8,471.0 495.9,472.7 500.0,476.0 504.9,478.7 508.5,479.2 513.1,469.4 517.2,451.4 521.6,427.3 526.2,419.1 530.3,418.6 535.2,420.8 539.3,419.5 542.9,439.1 546.9,439.4 551.8,448.1 556.4,447.3 560.8,463.3 564.6,452.2 569.5,437.5 573.6,427.3 578.0,430.9 582.6,435.8 587.5,443.2 592.1,460.4 595.7,474.3 599.8,480.9 603.9,477.6 608.4,480.9 612.9,476.8 617.0,459.6 621.4,451.4 625.5,435.8 629.2,432.6 634.2,425.2 639.1,419.8 643.2,417.8 647.3,419.8 651.3,432.6 655.4,455.5 659.9,475.1 664.1,476.8" fill="none" stroke="#45c0b8" stroke-width="0.75" stroke-linejoin="round"/>
<polyline points="3.6,469.4 6.5,476.8 9.8,480.0 14.7,476.8 19.6,471.0 23.7,469.9 28.7,475.1 32.7,478.7 37.7,476.0 41.8,468.6 45.8,454.7 49.9,437.5 54.0,424.4 58.1,421.1 62.2,422.7 67.1,430.9 72.0,438.3 77.0,445.7 81.9,457.1 86.8,465.3 91.7,472.7 95.8,471.0 100.7,465.3 105.6,453.8 110.5,440.7 115.4,432.6 119.5,439.1 124.4,452.2 129.4,460.4 134.3,456.3 139.9,442.4 144.8,432.6 149.7,429.3 154.6,432.6 159.6,439.1 164.5,450.6 168.6,460.4 172.7,458.8 176.8,443.2 180.8,430.9 184.9,428.5 189.9,437.5 194.8,443.2 198.9,441.6 203.8,435.0 207.9,431.7 212.0,435.8 216.1,448.1 220.1,463.7 224.2,474.3 229.2,480.0 234.1,477.6 239.0,471.9 243.9,463.7 248.8,462.0 252.9,465.3 257.5,470.2 261.9,465.3 266.0,457.1 270.9,446.5 274.9,442.4 279.8,444.8 284.7,447.3 289.6,450.9 294.6,455.5 299.5,464.5 303.6,471.0 307.7,473.5 312.2,471.0 316.7,471.0 320.8,474.3 325.7,479.2 330.6,482.0 335.5,482.5 340.4,480.0 345.3,476.8 350.2,474.3 354.3,468.6 358.4,457.9 362.5,444.8 366.6,434.2 370.7,429.6 374.8,434.2 378.9,445.7 383.0,458.8 387.1,467.8 391.2,470.2 395.3,464.5 399.4,452.2 403.5,443.2 407.5,439.4 409.9,438.8 414.8,437.1 418.9,438.3 423.0,446.5 427.1,458.8 431.2,469.4 435.3,473.2 439.4,475.1 444.3,478.4 449.2,475.1 454.1,467.8 459.0,457.9 463.1,453.0 467.2,453.8 471.3,458.8 475.4,468.6 479.5,474.8 484.4,476.8 488.5,473.5 492.6,471.9 496.7,471.5 501.6,473.5 505.7,476.8 509.8,477.6 513.9,473.5 518.0,462.9 522.1,447.3 526.2,432.6 530.3,422.7 534.4,419.8 539.3,419.8 543.4,426.0 544.9,429.3 549.8,439.1 554.7,444.8 559.6,451.4 564.6,454.7 569.5,451.9 573.6,442.4 577.7,433.4 582.2,430.9 586.7,435.8 590.8,444.0 594.9,457.1 598.9,469.4 603.0,476.8 608.0,479.7 612.0,478.7 616.1,472.7 620.2,462.9 624.3,452.2 628.4,441.6 632.5,433.4 636.6,427.3 641.5,422.7 646.4,419.8 651.3,422.7 655.4,435.0 659.5,452.2 664.1,469.9" fill="none" stroke="#ff4040" stroke-width="1.0" stroke-dasharray="1.2 2.1" stroke-linejoin="round"/>
<rect x="840.8" y="15.0" width="1.2" height="0.8" fill="#6a6ae0"/>
<text class="ax" x="843" y="17.4" textLength="18" lengthAdjust="spacingAndGlyphs">0.98740</text>
<rect x="840.8" y="32.9" width="1.2" height="0.8" fill="#6a6ae0"/>
<text class="ax" x="843" y="35.3" textLength="18" lengthAdjust="spacingAndGlyphs">0.98590</text>
<rect x="840.8" y="50.7" width="1.2" height="0.8" fill="#6a6ae0"/>
<text class="ax" x="843" y="53.1" textLength="18" lengthAdjust="spacingAndGlyphs">0.98440</text>
<rect x="840.8" y="68.6" width="1.2" height="0.8" fill="#6a6ae0"/>
<text class="ax" x="843" y="71.0" textLength="18" lengthAdjust="spacingAndGlyphs">0.98290</text>
<rect x="840.8" y="86.5" width="1.2" height="0.8" fill="#6a6ae0"/>
<text class="ax" x="843" y="88.9" textLength="18" lengthAdjust="spacingAndGlyphs">0.98140</text>
<rect x="840.8" y="104.3" width="1.2" height="0.8" fill="#6a6ae0"/>
<text class="ax" x="843" y="106.7" textLength="18" lengthAdjust="spacingAndGlyphs">0.97990</text>
<rect x="840.8" y="122.2" width="1.2" height="0.8" fill="#6a6ae0"/>
<text class="ax" x="843" y="124.6" textLength="18" lengthAdjust="spacingAndGlyphs">0.97835</text>
<rect x="840.8" y="140.1" width="1.2" height="0.8" fill="#6a6ae0"/>
<text class="ax" x="843" y="142.5" textLength="18" lengthAdjust="spacingAndGlyphs">0.97680</text>
<rect x="840.8" y="157.9" width="1.2" height="0.8" fill="#6a6ae0"/>
<text class="ax" x="843" y="160.3" textLength="18" lengthAdjust="spacingAndGlyphs">0.97525</text>
<rect x="840.8" y="175.8" width="1.2" height="0.8" fill="#6a6ae0"/>
<text class="ax" x="843" y="178.2" textLength="18" lengthAdjust="spacingAndGlyphs">0.97375</text>
<rect x="840.8" y="193.7" width="1.2" height="0.8" fill="#6a6ae0"/>
<text class="ax" x="843" y="196.1" textLength="18" lengthAdjust="spacingAndGlyphs">0.97225</text>
<rect x="840.8" y="211.5" width="1.2" height="0.8" fill="#6a6ae0"/>
<text class="ax" x="843" y="213.9" textLength="18" lengthAdjust="spacingAndGlyphs">0.97075</text>
<rect x="840.8" y="229.4" width="1.2" height="0.8" fill="#6a6ae0"/>
<text class="ax" x="843" y="231.8" textLength="18" lengthAdjust="spacingAndGlyphs">0.96925</text>
<rect x="840.8" y="247.3" width="1.2" height="0.8" fill="#6a6ae0"/>
<text class="ax" x="843" y="249.7" textLength="18" lengthAdjust="spacingAndGlyphs">0.96775</text>
<rect x="840.8" y="265.2" width="1.2" height="0.8" fill="#6a6ae0"/>
<text class="ax" x="843" y="267.6" textLength="18" lengthAdjust="spacingAndGlyphs">0.96620</text>
<rect x="840.8" y="283.0" width="1.2" height="0.8" fill="#6a6ae0"/>
<text class="ax" x="843" y="285.4" textLength="18" lengthAdjust="spacingAndGlyphs">0.96465</text>
<rect x="840.8" y="300.9" width="1.2" height="0.8" fill="#6a6ae0"/>
<text class="ax" x="843" y="303.3" textLength="18" lengthAdjust="spacingAndGlyphs">0.96315</text>
<rect x="840.8" y="318.8" width="1.2" height="0.8" fill="#6a6ae0"/>
<text class="ax" x="843" y="321.2" textLength="18" lengthAdjust="spacingAndGlyphs">0.96165</text>
<rect x="840.8" y="336.6" width="1.2" height="0.8" fill="#6a6ae0"/>
<text class="ax" x="843" y="339.0" textLength="18" lengthAdjust="spacingAndGlyphs">0.96015</text>
<rect x="840.8" y="354.5" width="1.2" height="0.8" fill="#6a6ae0"/>
<text class="ax" x="843" y="356.9" textLength="18" lengthAdjust="spacingAndGlyphs">0.95865</text>
<rect x="840.8" y="372.4" width="1.2" height="0.8" fill="#6a6ae0"/>
<text class="ax" x="843" y="374.8" textLength="18" lengthAdjust="spacingAndGlyphs">0.95715</text>
<rect x="840.8" y="390.2" width="1.2" height="0.8" fill="#6a6ae0"/>
<text class="ax" x="843" y="392.6" textLength="18" lengthAdjust="spacingAndGlyphs">0.95560</text>
<rect x="840.8" y="408.1" width="1.2" height="0.8" fill="#6a6ae0"/>
<text class="ax" x="843" y="410.5" textLength="18" lengthAdjust="spacingAndGlyphs">0.95410</text>
<text class="ax" x="842" y="417.7" textLength="7.8" lengthAdjust="spacingAndGlyphs">100</text>
<text class="ax" x="842" y="430.3" textLength="5.2" lengthAdjust="spacingAndGlyphs">80</text>
<text class="ax" x="842" y="475.7" textLength="5.2" lengthAdjust="spacingAndGlyphs">20</text>
<text class="ax" x="842" y="487.7" textLength="2.6" lengthAdjust="spacingAndGlyphs">0</text>
<rect x="840.9" y="295.6" width="22" height="5.9" fill="#0a0acc"/>
<text class="ax" x="843" y="300.4" textLength="18" lengthAdjust="spacingAndGlyphs" style="fill:#fff;stroke:#fff">0.96349</text>
<rect x="3.0" y="489.8" width="1" height="1.3" fill="#6a6ae0"/>
<text class="ax" x="3.1" y="496.1" textLength="27.6" lengthAdjust="spacingAndGlyphs">22 Sep 2022</text>
<rect x="37.6" y="489.8" width="1" height="1.3" fill="#6a6ae0"/>
<text class="ax" x="37.7" y="496.1" textLength="29.2" lengthAdjust="spacingAndGlyphs">22 Sep 18:30</text>
<rect x="72.1" y="489.8" width="1" height="1.3" fill="#6a6ae0"/>
<text class="ax" x="72.2" y="496.1" textLength="29.2" lengthAdjust="spacingAndGlyphs">22 Sep 20:30</text>
<rect x="106.7" y="489.8" width="1" height="1.3" fill="#6a6ae0"/>
<text class="ax" x="106.8" y="496.1" textLength="29.2" lengthAdjust="spacingAndGlyphs">22 Sep 22:30</text>
<rect x="141.2" y="489.8" width="1" height="1.3" fill="#6a6ae0"/>
<text class="ax" x="141.3" y="496.1" textLength="29.2" lengthAdjust="spacingAndGlyphs">23 Sep 00:30</text>
<rect x="175.8" y="489.8" width="1" height="1.3" fill="#6a6ae0"/>
<text class="ax" x="175.9" y="496.1" textLength="29.2" lengthAdjust="spacingAndGlyphs">23 Sep 02:30</text>
<rect x="210.4" y="489.8" width="1" height="1.3" fill="#6a6ae0"/>
<text class="ax" x="210.5" y="496.1" textLength="29.2" lengthAdjust="spacingAndGlyphs">23 Sep 04:30</text>
<rect x="244.9" y="489.8" width="1" height="1.3" fill="#6a6ae0"/>
<text class="ax" x="245.0" y="496.1" textLength="29.2" lengthAdjust="spacingAndGlyphs">23 Sep 06:30</text>
<rect x="279.5" y="489.8" width="1" height="1.3" fill="#6a6ae0"/>
<text class="ax" x="279.6" y="496.1" textLength="29.2" lengthAdjust="spacingAndGlyphs">23 Sep 08:30</text>
<rect x="314.0" y="489.8" width="1" height="1.3" fill="#6a6ae0"/>
<text class="ax" x="314.1" y="496.1" textLength="29.2" lengthAdjust="spacingAndGlyphs">23 Sep 10:30</text>
<rect x="348.6" y="489.8" width="1" height="1.3" fill="#6a6ae0"/>
<text class="ax" x="348.7" y="496.1" textLength="29.2" lengthAdjust="spacingAndGlyphs">23 Sep 12:30</text>
<rect x="383.2" y="489.8" width="1" height="1.3" fill="#6a6ae0"/>
<text class="ax" x="383.3" y="496.1" textLength="29.2" lengthAdjust="spacingAndGlyphs">23 Sep 14:30</text>
<rect x="417.7" y="489.8" width="1" height="1.3" fill="#6a6ae0"/>
<text class="ax" x="417.8" y="496.1" textLength="29.2" lengthAdjust="spacingAndGlyphs">23 Sep 16:30</text>
<rect x="452.3" y="489.8" width="1" height="1.3" fill="#6a6ae0"/>
<text class="ax" x="452.4" y="496.1" textLength="29.2" lengthAdjust="spacingAndGlyphs">23 Sep 18:30</text>
<rect x="486.8" y="489.8" width="1" height="1.3" fill="#6a6ae0"/>
<text class="ax" x="486.9" y="496.1" textLength="29.2" lengthAdjust="spacingAndGlyphs">23 Sep 20:30</text>
<rect x="521.4" y="489.8" width="1" height="1.3" fill="#6a6ae0"/>
<text class="ax" x="521.5" y="496.1" textLength="29.2" lengthAdjust="spacingAndGlyphs">23 Sep 22:30</text>
<rect x="556.0" y="489.8" width="1" height="1.3" fill="#6a6ae0"/>
<text class="ax" x="556.1" y="496.1" textLength="29.2" lengthAdjust="spacingAndGlyphs">26 Sep 00:30</text>
<rect x="590.5" y="489.8" width="1" height="1.3" fill="#6a6ae0"/>
<text class="ax" x="590.6" y="496.1" textLength="29.2" lengthAdjust="spacingAndGlyphs">26 Sep 02:30</text>
<rect x="625.1" y="489.8" width="1" height="1.3" fill="#6a6ae0"/>
<text class="ax" x="625.2" y="496.1" textLength="29.2" lengthAdjust="spacingAndGlyphs">26 Sep 04:30</text>
<rect x="659.6" y="489.8" width="1" height="1.3" fill="#6a6ae0"/>
<text class="ax" x="659.7" y="496.1" textLength="29.2" lengthAdjust="spacingAndGlyphs">26 Sep 06:30</text>
<polygon points="5.2,6.3 8.3,6.3 6.75,8.4" fill="#3030d0"/>
<text class="ax" x="11.8" y="9.4" textLength="35.6" lengthAdjust="spacingAndGlyphs">EURUSD#,M15</text>
<text class="ax" x="51" y="9.4" textLength="75.9" lengthAdjust="spacingAndGlyphs">0.96324 0.96389 0.96306 0.96349</text>
<text class="ax" x="5.7" y="418.6" textLength="65.5" lengthAdjust="spacingAndGlyphs">Stoch(5,3,3) 15.7778 24.4169</text>
</g>
<text class="cj" x="5.8" y="407.2" font-size="12.2" textLength="159.6" lengthAdjust="spacingAndGlyphs">2022年9月26日 歐美15分鐘K線</text>
<text class="cj" x="682" y="265.0" font-size="11.8" textLength="107.5" lengthAdjust="spacingAndGlyphs">壓力 0.9684至0.9708</text>
<text class="cj" x="503.3" y="397.2" font-size="11.8" textLength="107.4" lengthAdjust="spacingAndGlyphs">支撐 0.9585至0.9610</text>
</svg></body></html>
